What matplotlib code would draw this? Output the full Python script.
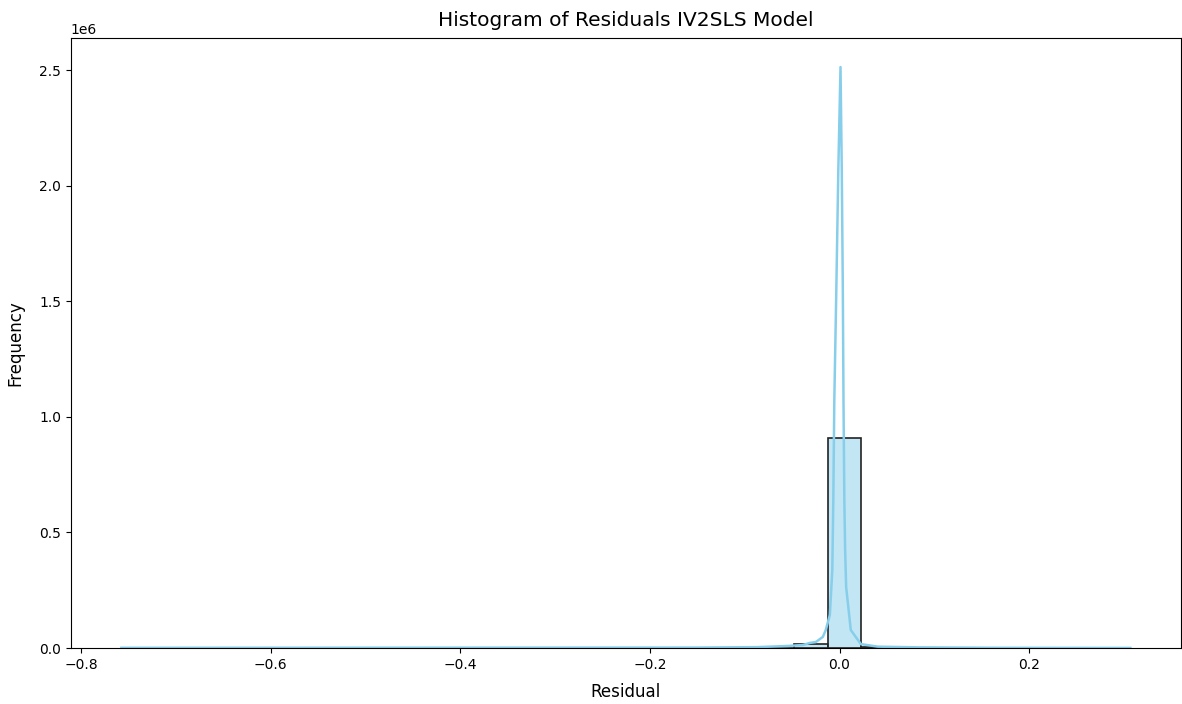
import matplotlib
matplotlib.use("Agg")
import matplotlib.pyplot as plt
import numpy as np

# residual histogram (30 bins over the data range)
resid_min = -0.7575
resid_max = 0.3068
counts = [1, 0, 0, 0, 0, 0, 0, 0, 0, 0,
          0, 0, 0, 0, 0, 0, 0, 0, 0, 2000,
          16000, 907000, 3000, 0, 0, 0, 0, 0, 0, 1]

# kde curve (x, scaled density)
kde_x = [-0.7575, -0.15, -0.0862, -0.0545, -0.0388, -0.0313, -0.025, -0.0176,
         -0.0145, -0.0102, -0.0076, -0.00654, -0.00549, -0.00338, -0.00127,
         0.00105, 0.0024, 0.0035, 0.0042, 0.0051, 0.0059, 0.007, 0.0119,
         0.0225, 0.0404, 0.0825, 0.167, 0.3068]
kde_y = [1000, 2000, 4000, 9000, 13000, 22000, 26000, 48000,
         78000, 143000, 337000, 639000, 1071000, 1546000, 2065000,
         2514000, 2065000, 1546000, 1071000, 639000, 430000, 264000, 78000,
         17000, 6000, 3000, 1000, 400]

edges = np.linspace(resid_min, resid_max, len(counts) + 1)

fig, ax = plt.subplots(figsize=(11.82, 7.04), dpi=100)
ax.bar(edges[:-1], counts, width=np.diff(edges), align='edge',
       facecolor=(135/255, 206/255, 235/255, 0.5), edgecolor='#222222', linewidth=1.2)
ax.plot(kde_x, kde_y, color='skyblue', linewidth=1.8)

ax.set_title("Histogram of Residuals IV2SLS Model", fontsize=14.5, pad=9)
ax.set_xlabel("Residual", fontsize=12, labelpad=8)
ax.set_ylabel("Frequency", fontsize=12, labelpad=10.5)
ax.set_ylim(bottom=0)

plt.subplots_adjust(left=0.060, right=0.999, bottom=0.0795, top=0.946)
plt.savefig("out.png", dpi=100)
